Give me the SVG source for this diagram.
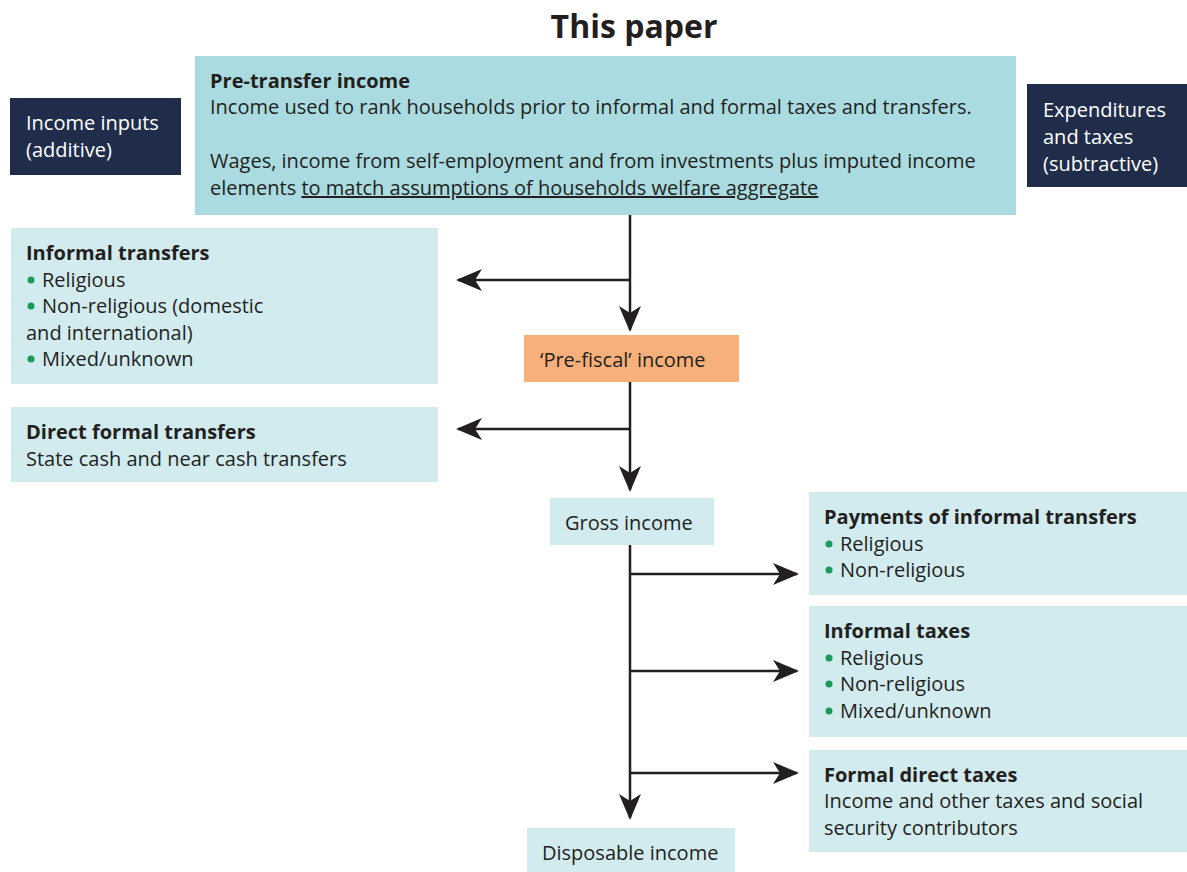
<svg xmlns="http://www.w3.org/2000/svg" width="1187" height="872" viewBox="0 0 1187 872">
<style>
text{font-family:"Open Sans",Lato,"Liberation Sans",sans-serif;font-size:20px;fill:#231f20}
.b{font-weight:bold}
.w{fill:#ffffff}
.dark{fill:#1f2d4a}
.mid{fill:#a9dbe0}
.light{fill:#d2ebef}
.or{fill:#f7b07a}
.dot{fill:#1a9a5a}
.ln{stroke:#231f20;stroke-width:2.5;fill:none}
</style>
<defs>
<marker id="ah" viewBox="0 0 26 22" refX="24" refY="11" markerWidth="26" markerHeight="22" markerUnits="userSpaceOnUse" orient="auto">
<path d="M0,0 L26,11 L0,22 L7,11 Z" fill="#231f20"/>
</marker>
</defs>
<rect width="1187" height="872" fill="#ffffff"/>
<text x="634" y="38" text-anchor="middle" class="b" style="font-size:32px">This paper</text>

<g id="income-inputs">
<rect x="10" y="98" width="171" height="77" class="dark"/>
<text x="26" y="130" class="w">Income inputs</text>
<text x="26" y="157" class="w">(additive)</text>
</g>
<g id="pre-transfer">
<rect x="195" y="56" width="821" height="159" class="mid"/>
<text x="210" y="88" class="b">Pre-transfer income</text>
<text x="210" y="114">Income used to rank households prior to informal and formal taxes and transfers.</text>
<text x="210" y="168">Wages, income from self-employment and from investments plus imputed income</text>
<text x="210" y="195">elements <tspan text-decoration="underline">to match assumptions of households welfare aggregate</tspan></text>
</g>
<g id="expenditures">
<rect x="1027" y="84" width="160" height="103" class="dark"/>
<text x="1043" y="117" class="w">Expenditures</text>
<text x="1043" y="144" class="w">and taxes</text>
<text x="1043" y="171" class="w">(subtractive)</text>
</g>
<g id="informal-transfers">
<rect x="11" y="228" width="427" height="156" class="light"/>
<text x="26" y="260" class="b">Informal transfers</text>
<circle cx="31" cy="280" r="3.5" class="dot"/><text x="42" y="287">Religious</text>
<circle cx="31" cy="306" r="3.5" class="dot"/><text x="42" y="313">Non-religious (domestic</text>
<text x="26" y="340">and international)</text>
<circle cx="31" cy="359" r="3.5" class="dot"/><text x="42" y="366">Mixed/unknown</text>
</g>
<g id="pre-fiscal">
<rect x="524" y="335" width="215" height="47" class="or"/>
<text x="540" y="367">‘Pre-fiscal’ income</text>
</g>
<g id="direct-formal-transfers">
<rect x="11" y="407" width="427" height="75" class="light"/>
<text x="26" y="439" class="b">Direct formal transfers</text>
<text x="26" y="466">State cash and near cash transfers</text>
</g>
<g id="gross-income">
<rect x="550" y="498" width="164" height="47" class="light"/>
<text x="565" y="530">Gross income</text>
</g>
<g id="payments-informal">
<rect x="809" y="492" width="378" height="103" class="light"/>
<text x="824" y="524" class="b">Payments of informal transfers</text>
<circle cx="829" cy="544" r="3.5" class="dot"/><text x="840" y="551">Religious</text>
<circle cx="829" cy="570" r="3.5" class="dot"/><text x="840" y="577">Non-religious</text>
</g>
<g id="informal-taxes">
<rect x="809" y="606" width="378" height="131" class="light"/>
<text x="824" y="638" class="b">Informal taxes</text>
<circle cx="829" cy="658" r="3.5" class="dot"/><text x="840" y="665">Religious</text>
<circle cx="829" cy="684" r="3.5" class="dot"/><text x="840" y="691">Non-religious</text>
<circle cx="829" cy="711" r="3.5" class="dot"/><text x="840" y="718">Mixed/unknown</text>
</g>
<g id="formal-direct-taxes">
<rect x="809" y="750" width="378" height="102" class="light"/>
<text x="824" y="782" class="b">Formal direct taxes</text>
<text x="824" y="808">Income and other taxes and social</text>
<text x="824" y="835">security contributors</text>
</g>
<g id="disposable-income">
<rect x="527" y="828" width="208" height="44" class="light"/>
<text x="542" y="860">Disposable income</text>
</g>

<g id="connectors">
<line x1="630" y1="215" x2="630" y2="330" class="ln" marker-end="url(#ah)"/>
<line x1="630" y1="280" x2="458" y2="280" class="ln" marker-end="url(#ah)"/>
<line x1="630" y1="382" x2="630" y2="490" class="ln" marker-end="url(#ah)"/>
<line x1="630" y1="429" x2="458" y2="429" class="ln" marker-end="url(#ah)"/>
<line x1="630" y1="545" x2="630" y2="818" class="ln" marker-end="url(#ah)"/>
<line x1="630" y1="574" x2="797" y2="574" class="ln" marker-end="url(#ah)"/>
<line x1="630" y1="671" x2="797" y2="671" class="ln" marker-end="url(#ah)"/>
<line x1="630" y1="773" x2="797" y2="773" class="ln" marker-end="url(#ah)"/>
</g>
</svg>
